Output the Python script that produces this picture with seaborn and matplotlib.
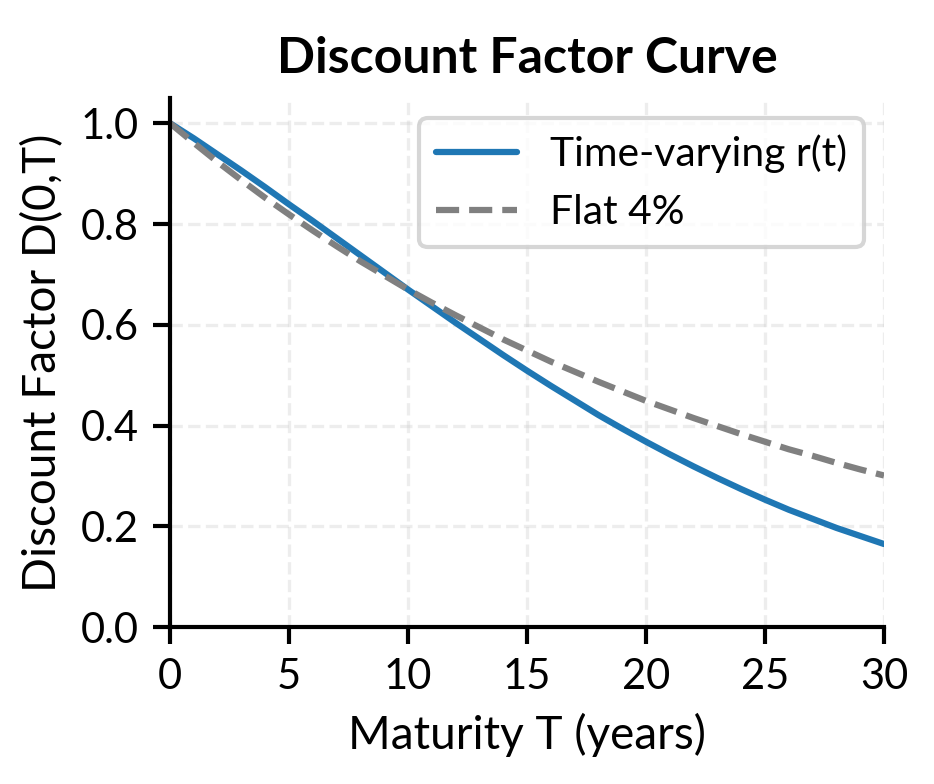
"""
Discount factor curve: time-varying short rate vs flat 4%.
"""
import matplotlib

matplotlib.use("Agg")
import matplotlib.pyplot as plt
import pandas as pd
import seaborn as sns

maturity = list(range(0, 31))
df_time_varying = [
    1.000, 0.970, 0.938, 0.906, 0.873, 0.839, 0.806, 0.772, 0.738, 0.704,
    0.670, 0.637, 0.604, 0.572, 0.540, 0.509, 0.479, 0.450, 0.421, 0.394,
    0.368, 0.343, 0.319, 0.296, 0.274, 0.253, 0.233, 0.215, 0.197, 0.181,
    0.165,
]
df_flat = [
    1.000, 0.961, 0.923, 0.887, 0.852, 0.819, 0.787, 0.756, 0.726, 0.698,
    0.670, 0.644, 0.619, 0.595, 0.571, 0.549, 0.527, 0.507, 0.487, 0.468,
    0.449, 0.432, 0.415, 0.399, 0.383, 0.368, 0.353, 0.340, 0.326, 0.313,
    0.301,
]

sns.set_style("ticks")
plt.rcParams["font.family"] = ["Lato", "DejaVu Sans"]
plt.rcParams.update({
    "text.color": "black",
    "axes.labelcolor": "black",
    "axes.edgecolor": "black",
    "xtick.color": "black",
    "ytick.color": "black",
})

data = pd.DataFrame({"T": maturity, "tv": df_time_varying, "flat": df_flat})

fig = plt.figure(figsize=(934 / 300, 784 / 300), dpi=300)
ax = fig.add_axes([0.182, 0.2, 0.7645, 0.675])

sns.lineplot(data=data, x="T", y="tv", color="#1f77b4", linewidth=1.5,
             label="Time-varying r(t)", ax=ax)
sns.lineplot(data=data, x="T", y="flat", color="gray", linewidth=1.5,
             linestyle="--", label="Flat 4%", ax=ax)

ax.set_xlim(0, 30)
ax.set_ylim(0, 1.05)
ax.set_xticks([0, 5, 10, 15, 20, 25, 30])
ax.set_yticks([0.0, 0.2, 0.4, 0.6, 0.8, 1.0])
ax.set_title("Discount Factor Curve", fontsize=12, fontweight="bold")
ax.set_xlabel("Maturity T (years)", fontsize=11)
ax.set_ylabel("Discount Factor D(0,T)", fontsize=11)
ax.tick_params(labelsize=10, width=1, length=4)
ax.grid(True, linestyle="--", alpha=0.35)
for side in ["left", "bottom"]:
    ax.spines[side].set_linewidth(1)
sns.despine(ax=ax)
ax.legend(fontsize=9.8, loc="upper right", frameon=True, handlelength=2.0)

fig.savefig("out.png", dpi=300)
plt.close(fig)
